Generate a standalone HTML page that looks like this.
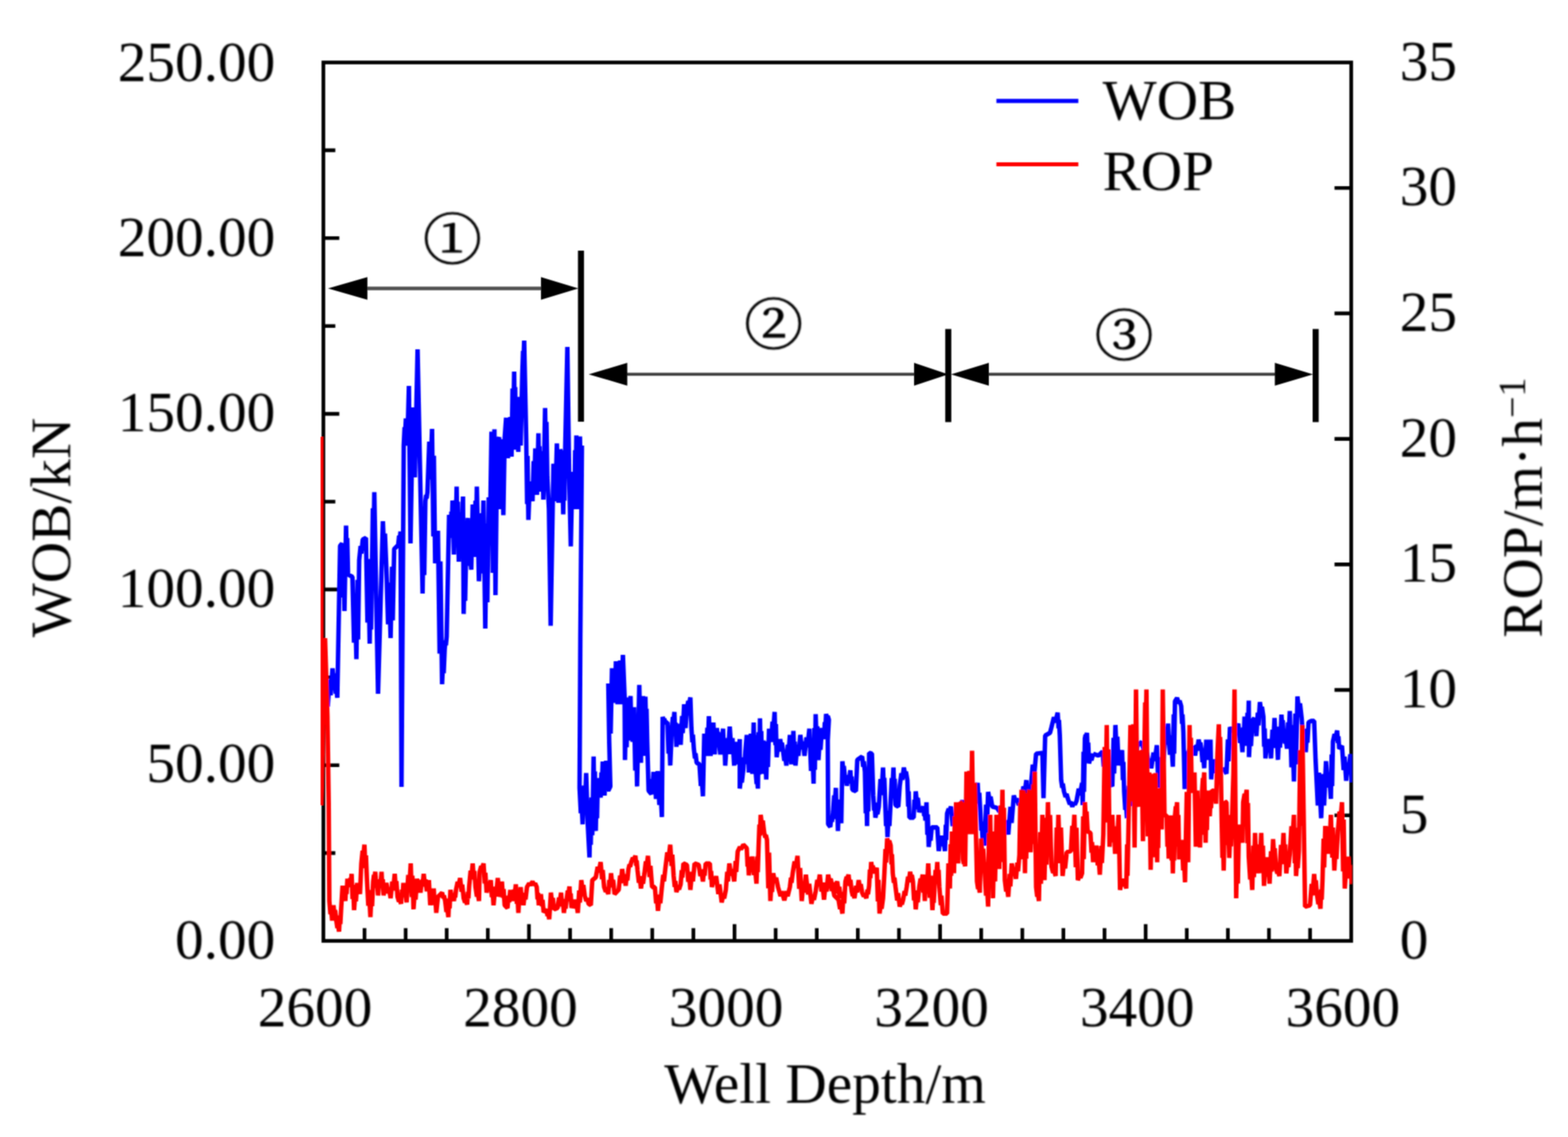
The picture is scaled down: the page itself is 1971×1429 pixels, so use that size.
<!DOCTYPE html>
<html lang="en">
<head>
<meta charset="utf-8">
<title>WOB and ROP versus Well Depth</title>
<style>
html,body{margin:0;padding:0;background:#fff;}
body{width:1971px;height:1429px;overflow:hidden;}
svg{display:block;}
</style>
</head>
<body>
<svg width="1971" height="1429" viewBox="0 0 1971 1429" font-family='"Liberation Serif", "Noto Serif CJK SC", serif' fill="#000">
<defs><filter id="soft" x="0" y="0" width="1971" height="1429" filterUnits="userSpaceOnUse"><feConvolveMatrix order="3" kernelMatrix="1 2 1 2 6 2 1 2 1" divisor="18" edgeMode="duplicate" preserveAlpha="false"/></filter><filter id="softtext" x="0" y="0" width="1971" height="1429" filterUnits="userSpaceOnUse"><feConvolveMatrix order="5" kernelMatrix="1 4 6 4 1 4 16 24 16 4 6 24 36 24 6 4 16 24 16 4 1 4 6 4 1" divisor="256" edgeMode="duplicate" preserveAlpha="false"/></filter><clipPath id="plot"><rect x="403" y="78" width="1296.5" height="1105"/></clipPath></defs>
<rect width="1971" height="1429" fill="#fff"/>
<g filter="url(#soft)">
<rect x="406.5" y="78.5" width="1292.0" height="1104.0" fill="none" stroke="#000" stroke-width="4.6"/>
<path d="M406.5 1072.1h15 M406.5 961.7h20 M406.5 851.3h15 M406.5 740.9h20 M406.5 630.5h15 M406.5 520.1h20 M406.5 409.7h15 M406.5 299.3h20 M406.5 188.9h15 M1698.5 1024.8h-21 M1698.5 867.1h-21 M1698.5 709.4h-21 M1698.5 551.6h-21 M1698.5 393.9h-21 M1698.5 236.2h-21 M458.2 1182.5v-16 M509.9 1182.5v-16 M561.5 1182.5v-16 M613.2 1182.5v-16 M664.9 1182.5v-21 M716.6 1182.5v-16 M768.3 1182.5v-16 M819.9 1182.5v-16 M871.6 1182.5v-16 M923.3 1182.5v-21 M975.0 1182.5v-16 M1026.7 1182.5v-16 M1078.3 1182.5v-16 M1130.0 1182.5v-16 M1181.7 1182.5v-21 M1233.4 1182.5v-16 M1285.1 1182.5v-16 M1336.7 1182.5v-16 M1388.4 1182.5v-16 M1440.1 1182.5v-21 M1491.8 1182.5v-16 M1543.5 1182.5v-16 M1595.1 1182.5v-16 M1646.8 1182.5v-16" fill="none" stroke="#000" stroke-width="4.6"/>
<g clip-path="url(#plot)">
<polyline points="407.0,872.0 409.0,882.9 410.0,877.1 412.0,888.0 414.4,854.2 415.6,873.8 418.0,840.0 419.2,853.6 419.8,846.4 421.0,860.0 422.2,871.6 422.8,865.4 424.0,877.0 427.5,686.0 430.0,683.0 431.2,751.0 431.8,700.0 433.0,768.0 435.0,660.5 436.0,706.3 436.5,676.2 437.5,722.0 443.0,725.0 445.0,807.8 446.0,745.7 448.0,828.5 449.4,728.9 450.1,803.6 451.5,704.0 453.3,686.3 454.2,695.7 456.0,678.0 460.0,676.0 461.9,782.4 462.8,702.6 464.7,809.0 465.8,737.8 466.4,791.2 467.5,720.0 468.7,638.9 469.3,699.7 470.5,618.6 475.2,872.0 481.3,655.0 483.1,699.4 483.9,670.6 485.7,715.0 487.8,784.6 488.9,732.4 491.0,802.0 492.8,712.4 493.7,779.6 495.5,690.0 500.5,685.0 501.7,673.4 502.3,679.6 503.5,668.0 504.7,989.0 507.5,560.0 508.6,536.9 509.1,549.1 510.2,526.0 512.0,560.0 514.0,485.0 516.0,683.0 519.0,512.0 520.0,582.4 520.5,529.6 521.5,600.0 524.9,439.0 531.2,746.0 532.6,653.2 533.3,722.8 534.7,630.0 535.7,622.2 536.3,626.3 537.3,618.5 539.6,555.0 540.8,602.5 543.1,539.0 544.7,674.2 545.4,572.8 547.0,708.0 548.4,680.0 549.1,695.0 550.5,667.0 552.6,821.4 553.6,705.6 555.7,860.0 557.0,829.6 557.7,846.4 559.0,816.0 560.0,805.1 560.5,810.9 561.5,800.0 564.5,647.0 566.5,676.0 567.4,643.1 567.9,661.9 568.8,629.0 570.6,697.0 572.0,628.7 572.6,679.9 574.0,611.6 575.1,687.1 575.6,630.5 576.7,706.0 578.4,644.0 580.0,700.0 582.0,624.0 582.8,771.6 584.1,706.3 584.7,755.3 586.0,690.0 588.0,651.0 590.0,700.0 591.0,710.9 591.4,705.1 592.4,716.0 594.2,634.0 595.1,684.0 595.6,650.0 596.5,700.0 597.7,629.3 598.2,682.3 599.4,611.6 602.0,730.5 603.0,709.8 603.5,720.7 604.5,700.0 605.8,645.1 606.4,683.9 607.7,629.0 610.0,790.0 611.7,658.0 612.6,757.0 614.3,625.0 616.0,660.0 617.8,542.5 619.5,720.0 621.5,539.5 622.8,748.0 625.0,555.0 627.4,549.5 629.0,640.0 631.0,552.0 632.7,647.4 634.4,550.0 636.2,525.0 637.1,561.4 637.6,539.6 638.5,576.0 639.7,538.8 640.2,561.2 641.4,524.0 643.0,574.0 644.3,488.4 645.0,552.6 646.3,467.0 647.2,545.4 647.6,486.6 648.5,565.0 650.2,532.0 651.5,568.0 652.8,498.7 654.5,560.0 656.5,470.0 657.5,441.2 657.9,456.8 658.9,428.0 661.5,553.0 662.6,633.4 663.1,573.1 664.2,653.5 666.0,605.0 667.4,622.0 668.0,613.0 669.4,630.0 670.8,579.5 671.5,614.0 672.9,563.5 675.0,622.0 676.8,544.6 677.7,601.9 678.1,560.7 679.0,618.0 680.8,567.0 681.7,612.3 682.1,582.7 683.0,628.0 685.2,512.7 686.3,582.5 686.9,530.2 688.0,600.0 690.0,640.0 692.2,786.5 695.7,582.7 696.6,615.9 697.1,596.8 698.0,630.0 700.0,557.3 702.0,632.0 704.0,565.0 706.2,570.5 708.0,646.5 709.0,577.3 709.5,629.2 710.5,560.0 713.2,436.0 715.5,600.0 717.5,686.7 719.5,593.0 720.5,625.9 721.0,607.1 722.0,640.0 723.0,565.9 723.5,621.5 724.5,547.4 726.5,640.0 727.5,566.9 728.0,621.7 729.0,548.6 730.5,640.0 731.5,560.0 729.5,800.0 728.5,990.0 730.1,1022.1 730.8,1003.9 732.4,1036.0 734.2,987.4 735.0,1020.1 736.8,971.5 738.9,1037.4 741.0,1077.7 742.0,1018.5 742.6,1061.6 743.6,1002.4 744.5,1049.7 746.2,950.8 747.3,1025.7 747.8,969.5 748.9,1044.4 749.9,993.9 750.5,1028.4 751.5,977.9 752.9,994.6 753.6,985.7 755.0,1002.4 756.0,970.8 756.6,988.6 757.6,957.0 758.5,986.5 759.0,970.3 759.9,999.8 762.0,956.1 763.0,981.7 763.6,968.1 764.6,993.7 767.2,988.4 765.8,932.5 764.6,859.0 765.8,906.2 766.4,874.8 767.6,922.0 769.3,839.7 770.3,870.0 770.8,853.2 771.8,883.5 772.8,845.8 773.2,868.7 774.2,831.0 776.3,885.2 777.6,845.2 778.2,870.1 779.5,830.1 781.2,885.2 783.0,823.1 785.1,874.7 785.6,955.2 787.0,892.5 787.7,939.2 789.1,876.5 790.9,930.7 792.6,874.7 793.6,917.1 794.2,890.1 795.2,932.5 797.0,888.7 798.5,968.5 799.3,908.6 800.8,988.4 803.6,860.7 805.7,958.7 806.7,891.5 807.3,941.9 808.3,874.7 810.1,950.0 811.3,875.6 812.2,917.2 812.7,890.9 813.6,932.5 815.3,993.7 818.8,998.1 819.9,979.1 820.4,989.1 821.5,970.1 822.7,993.3 823.4,981.0 824.6,1004.2 826.7,969.2 828.8,1011.5 829.9,984.6 832.0,1026.9 833.0,901.0 834.3,905.8 835.0,903.2 836.3,908.0 839.0,908.0 840.4,947.2 841.1,923.0 842.5,962.2 844.6,915.0 845.8,901.3 846.5,908.5 847.7,894.8 848.7,925.1 849.3,908.3 850.3,938.6 851.4,918.9 851.9,929.4 853.0,909.7 854.0,927.6 854.6,918.1 855.6,936.0 857.4,899.8 858.2,921.4 860.0,885.2 861.7,915.0 863.5,890.5 865.2,881.0 866.1,886.0 867.8,876.5 869.1,915.0 870.3,932.8 871.0,923.4 872.2,941.2 873.6,953.1 874.3,946.8 875.7,958.7 879.2,960.5 881.0,987.9 881.8,973.3 883.6,1000.7 885.3,922.0 886.3,941.0 886.9,931.0 887.9,950.0 889.2,914.6 889.8,935.5 891.1,900.1 893.2,950.0 894.6,921.2 895.3,936.8 896.7,908.0 898.4,948.2 899.5,925.6 900.0,937.6 901.1,915.0 902.1,925.7 902.7,920.0 903.7,930.7 905.4,948.2 906.8,926.2 907.5,937.8 908.9,915.8 910.0,948.2 910.5,929.8 911.6,962.2 913.9,927.6 915.0,947.8 917.3,913.2 919.5,947.8 920.7,927.6 922.9,962.2 924.0,942.0 924.5,952.7 925.6,932.5 926.6,951.5 927.2,941.5 928.2,960.5 929.9,929.0 929.9,991.1 931.7,975.1 932.5,983.5 934.3,967.5 935.3,952.0 935.9,960.2 936.9,944.7 938.7,923.7 939.7,956.9 940.3,937.8 941.3,971.0 942.3,936.4 942.9,956.6 943.9,922.0 945.7,972.7 947.4,908.0 948.5,956.8 949.0,923.9 950.1,972.7 951.1,985.2 951.7,978.6 952.7,991.1 953.7,920.4 954.3,973.4 955.3,902.7 956.3,956.6 956.9,918.8 957.9,972.7 959.7,930.7 961.1,965.3 961.8,945.1 963.2,979.7 964.6,931.7 965.3,963.8 966.7,915.8 967.7,927.2 968.3,921.1 969.3,932.5 971.1,906.9 971.9,920.4 973.7,894.8 974.7,936.4 975.3,910.1 976.3,951.7 978.1,936.3 978.9,944.4 980.7,929.0 982.1,938.5 982.8,933.5 984.2,943.0 985.9,956.1 986.8,949.1 988.5,962.2 990.3,936.0 991.1,949.9 992.9,923.7 994.7,960.5 995.7,931.7 996.3,947.3 997.3,918.5 998.3,948.7 998.9,932.0 999.9,962.2 1002.3,936.0 1003.6,949.9 1006.0,923.7 1008.1,941.6 1009.2,932.1 1011.3,950.0 1013.7,926.7 1015.0,939.1 1017.4,915.8 1019.5,968.8 1020.6,931.9 1022.7,984.9 1023.7,915.0 1024.3,967.4 1025.3,897.5 1026.7,939.8 1027.4,912.9 1028.8,955.2 1030.6,927.8 1031.4,942.4 1033.2,915.0 1034.2,924.5 1034.8,919.5 1035.8,929.0 1036.8,907.6 1037.4,918.9 1038.4,897.5 1039.8,902.3 1040.5,899.7 1041.9,904.5 1040.5,930.7 1041.0,1035.7 1043.7,1039.2 1045.1,1026.1 1045.8,1033.0 1047.2,1019.9 1048.6,999.7 1049.3,1010.4 1050.7,990.2 1051.7,1029.4 1052.3,1005.2 1053.3,1044.4 1054.3,1017.5 1054.7,1031.8 1055.7,1004.9 1057.5,1034.7 1058.9,956.8 1060.1,969.3 1060.7,962.7 1061.9,975.2 1062.9,983.6 1063.5,979.1 1064.5,987.5 1066.3,974.4 1067.1,981.3 1068.9,968.2 1069.9,984.9 1070.5,976.0 1071.5,992.7 1075.9,994.5 1077.6,955.1 1083.7,950.7 1085.1,963.8 1085.8,956.9 1087.2,970.0 1088.3,1022.1 1088.8,986.1 1089.9,1038.2 1090.9,964.7 1091.5,1019.8 1092.5,946.3 1096.0,947.2 1097.7,999.7 1098.8,1018.7 1099.3,1008.7 1100.4,1027.7 1102.1,1018.2 1103.0,1023.2 1104.7,1013.7 1106.8,979.1 1107.9,999.3 1110.0,964.7 1111.0,992.1 1111.6,977.5 1112.6,1004.9 1113.8,1038.1 1114.4,1019.0 1115.6,1052.2 1117.2,1020.5 1118.0,1038.4 1119.6,1006.7 1121.0,977.9 1121.7,993.5 1123.1,964.7 1124.1,997.8 1124.7,978.8 1125.7,1011.9 1129.2,1013.7 1131.0,987.5 1133.1,972.0 1134.1,980.2 1136.2,964.7 1138.0,975.4 1138.8,969.8 1140.6,980.5 1141.6,1013.6 1142.2,994.6 1143.2,1027.7 1148.5,1027.7 1149.5,1005.1 1150.1,1017.1 1151.1,994.5 1152.9,1012.3 1153.7,1002.9 1155.5,1020.7 1157.6,1015.9 1158.6,1018.5 1160.7,1013.7 1161.7,1025.6 1162.3,1019.3 1163.3,1031.2 1164.6,1008.4 1165.7,1049.2 1166.3,1023.6 1167.4,1064.4 1168.9,1047.7 1169.7,1056.6 1171.2,1039.9 1178.2,1039.9 1180.0,1069.7 1181.4,1056.6 1182.1,1063.5 1183.5,1050.4 1185.2,1063.5 1186.1,1056.6 1187.8,1069.7 1188.9,1036.5 1189.4,1055.6 1190.5,1022.4 1192.5,1016.5 1193.4,1019.6 1195.4,1013.7 1197.5,1038.2 1199.6,1027.5 1200.6,1033.1 1202.7,1022.4 1205.5,1011.1 1206.9,1017.1 1209.7,1005.8 1211.8,1017.1 1212.8,1011.1 1214.9,1022.4 1218.4,1010.5 1220.2,1016.8 1223.7,1004.9 1225.8,990.7 1226.8,998.2 1228.9,984.0 1230.3,1010.1 1231.0,996.3 1232.4,1022.4 1233.5,1043.8 1234.0,1032.5 1235.1,1053.9 1236.1,1059.9 1236.7,1056.7 1237.7,1062.7 1239.5,1011.3 1240.3,1046.7 1242.1,995.3 1244.2,1007.8 1245.2,1001.2 1247.3,1013.7 1253.4,1015.4 1256.2,1020.2 1257.6,1017.6 1260.4,1022.4 1263.2,1040.3 1264.6,1030.8 1267.4,1048.7 1270.2,1014.1 1271.6,1034.3 1274.4,999.7 1276.9,1008.0 1278.1,1003.6 1280.6,1011.9 1282.0,1007.1 1282.7,1009.7 1284.1,1004.9 1286.5,988.3 1287.8,997.1 1290.2,980.5 1290.5,1006.7 1292.5,997.2 1293.4,1002.2 1295.4,992.7 1298.2,961.0 1299.6,978.9 1302.4,947.2 1310.3,946.3 1311.7,1003.2 1313.8,924.5 1319.9,921.0 1321.7,914.0 1324.8,901.5 1326.4,908.1 1329.5,895.6 1330.6,915.3 1331.1,904.8 1332.2,924.5 1333.9,980.5 1335.3,990.0 1336.0,985.0 1337.4,994.5 1339.5,1001.6 1340.6,997.8 1342.7,1004.9 1344.8,1010.9 1345.8,1007.7 1347.9,1013.7 1350.0,1008.9 1351.1,1011.5 1353.2,1006.7 1356.0,991.3 1357.4,999.4 1360.2,984.0 1361.0,1011.9 1362.1,944.8 1362.6,995.1 1363.7,928.0 1364.7,923.2 1365.3,925.8 1366.3,921.0 1367.3,947.2 1367.9,933.3 1368.9,959.5 1371.0,951.1 1372.0,955.6 1374.1,947.2 1374.1,947.3 1380.7,949.7 1386.0,944.5 1387.4,963.5 1388.1,953.5 1389.5,972.5 1391.3,979.6 1392.1,975.9 1393.9,983.0 1398.2,988.2 1399.8,927.3 1400.5,972.1 1402.1,911.2 1403.7,947.4 1404.5,925.8 1406.1,962.0 1407.9,948.9 1408.7,955.8 1410.5,942.7 1411.5,980.4 1412.1,957.5 1413.1,995.2 1414.5,1017.8 1415.2,1005.8 1416.6,1028.4 1419.0,987.7 1420.3,1013.2 1422.7,972.5 1425.5,948.7 1426.9,961.3 1429.7,937.5 1435.0,932.2 1437.8,942.9 1439.2,937.3 1442.0,948.0 1444.1,959.9 1445.1,953.6 1447.2,965.5 1450.0,945.8 1451.4,956.3 1454.2,936.6 1455.6,975.1 1456.3,951.5 1457.7,990.0 1459.8,961.2 1460.9,976.8 1463.0,948.0 1465.1,921.8 1466.1,935.7 1468.2,909.5 1470.6,948.7 1471.9,924.5 1474.3,963.7 1475.4,897.9 1475.9,947.3 1477.0,881.5 1479.6,877.1 1481.7,884.2 1482.7,880.5 1484.8,887.6 1485.9,909.6 1486.4,898.0 1487.5,920.0 1489.2,991.7 1490.6,961.5 1491.3,978.2 1492.7,948.0 1495.5,940.9 1496.9,944.6 1499.7,937.5 1500.7,945.8 1501.3,941.4 1502.3,949.7 1504.1,936.0 1504.9,943.3 1506.7,929.6 1508.1,937.4 1508.8,933.2 1510.2,941.0 1511.6,957.7 1512.3,948.8 1513.7,965.5 1514.7,941.1 1515.3,954.0 1516.3,929.6 1517.4,946.9 1517.9,937.7 1519.0,955.0 1520.0,937.7 1520.6,946.9 1521.6,929.6 1522.5,979.5 1523.9,962.8 1524.6,971.7 1526.0,955.0 1528.8,959.8 1530.1,957.2 1532.9,962.0 1536.4,969.1 1538.2,965.4 1541.7,972.5 1543.5,929.4 1544.3,957.0 1546.1,913.9 1547.8,918.0 1548.7,915.9 1550.4,920.0 1552.9,912.9 1554.1,916.6 1556.6,909.5 1558.7,933.8 1559.7,921.0 1561.8,945.3 1562.8,914.4 1563.4,931.6 1564.4,900.7 1565.5,925.7 1566.0,912.5 1567.1,937.5 1568.1,895.9 1568.7,922.2 1569.7,880.6 1570.0,951.5 1571.6,919.8 1572.5,937.7 1574.1,906.0 1576.7,902.5 1577.7,917.9 1578.3,909.8 1579.3,925.2 1581.1,895.7 1581.9,911.9 1583.7,882.4 1585.5,894.8 1586.3,888.3 1588.1,900.7 1589.1,938.4 1589.7,915.5 1590.7,953.2 1592.1,936.5 1592.8,945.4 1594.2,928.7 1595.6,945.4 1596.3,936.5 1597.7,953.2 1599.5,917.1 1600.3,938.6 1602.1,902.5 1603.8,940.2 1604.7,917.3 1606.4,955.0 1608.2,913.4 1609.0,939.7 1610.8,898.1 1611.8,913.0 1612.4,905.1 1613.4,920.0 1615.2,934.3 1616.0,926.7 1617.8,941.0 1619.2,907.8 1619.9,926.9 1621.3,893.7 1623.4,964.4 1624.4,911.4 1626.5,982.1 1628.3,896.7 1629.1,960.8 1630.9,875.4 1633.0,893.8 1634.1,884.1 1636.2,902.5 1638.3,932.0 1639.3,915.8 1641.4,945.3 1642.8,919.7 1643.5,933.3 1644.9,907.7 1648.4,906.0 1651.9,906.0 1653.7,955.0 1656.5,1012.3 1657.9,971.1 1660.7,1028.4 1663.1,972.8 1664.4,1012.3 1666.8,956.7 1669.2,989.9 1670.5,970.8 1672.9,1004.0 1673.9,948.3 1674.5,987.9 1675.5,932.2 1677.6,922.7 1678.7,927.7 1680.8,918.2 1681.8,933.7 1682.4,925.5 1683.4,941.0 1686.9,937.5 1689.0,967.7 1690.1,951.0 1692.2,981.2 1694.3,958.6 1695.3,970.6 1697.4,948.0 1699.1,983.0" fill="none" stroke="#0000ff" stroke-width="5.6" stroke-linejoin="bevel" stroke-linecap="butt"/>
<polyline points="403.7,549.0 403.7,1012.0 408.6,802.0 411.6,900.0 413.2,1010.0 414.0,1132.4 415.4,1149.1 416.1,1140.2 417.5,1156.9 419.2,1137.7 420.6,1150.8 421.3,1143.8 422.7,1156.9 424.1,1166.4 424.8,1161.4 426.2,1170.9 427.3,1150.7 427.8,1161.4 428.9,1141.2 430.6,1113.2 432.0,1126.3 432.7,1119.3 434.1,1132.4 435.1,1113.4 435.7,1123.5 436.7,1104.5 437.8,1111.6 438.3,1107.8 439.4,1114.9 440.4,1103.6 441.0,1109.6 442.0,1098.3 443.2,1130.0 443.9,1112.1 445.1,1143.8 446.7,1120.6 447.4,1132.9 449.0,1109.7 450.4,1119.2 451.1,1114.2 452.5,1123.7 454.2,1085.2 455.8,1069.2 456.5,1077.6 458.1,1061.6 459.3,1091.1 460.0,1075.0 461.2,1104.5 463.0,1138.4 463.8,1118.7 465.6,1152.6 467.0,1121.6 467.7,1138.9 469.1,1107.9 470.1,1099.6 470.7,1104.0 471.7,1095.7 473.1,1115.9 473.8,1105.2 475.2,1125.4 477.0,1105.2 477.8,1115.9 479.6,1095.7 480.6,1115.9 481.2,1105.2 482.2,1125.4 483.6,1114.7 484.3,1120.4 485.7,1109.7 487.8,1122.8 488.9,1115.8 491.0,1128.9 493.1,1108.1 494.1,1119.1 496.2,1098.3 497.6,1118.0 498.3,1107.5 499.7,1127.2 501.5,1133.1 502.3,1130.0 504.1,1135.9 505.3,1118.1 505.9,1127.5 507.1,1109.7 508.7,1126.4 509.5,1117.5 511.1,1134.2 513.2,1099.6 514.2,1119.8 516.3,1085.2 517.7,1127.5 518.4,1100.6 519.8,1142.9 521.6,1116.8 522.4,1130.6 524.2,1104.5 526.0,1116.3 526.8,1110.1 528.6,1121.9 530.2,1105.9 531.0,1114.3 532.6,1098.3 534.2,1113.2 534.9,1105.3 536.5,1120.2 537.5,1110.7 538.1,1115.7 539.1,1106.2 540.8,1137.7 542.6,1123.4 543.4,1131.0 545.2,1116.7 546.5,1137.5 547.1,1126.5 548.4,1147.3 550.5,1127.2 555.7,1121.9 557.3,1129.0 558.0,1125.3 559.6,1132.4 561.2,1146.1 562.0,1138.9 563.6,1152.6 564.6,1129.3 565.2,1141.7 566.2,1118.4 568.0,1127.9 568.8,1122.9 570.6,1132.4 571.6,1122.9 572.2,1127.9 573.2,1118.4 575.3,1108.3 576.3,1113.7 578.4,1103.6 580.2,1120.8 581.0,1111.7 582.8,1128.9 584.6,1134.3 585.4,1131.4 587.2,1136.8 588.2,1120.8 588.8,1129.2 589.8,1113.2 591.6,1094.2 592.4,1104.2 594.2,1085.2 595.6,1105.4 596.3,1094.7 597.7,1114.9 599.5,1126.8 600.3,1120.5 602.1,1132.4 602.9,1095.7 604.9,1088.6 605.8,1092.3 607.8,1085.2 609.4,1110.2 610.1,1096.9 611.7,1121.9 613.8,1111.2 614.8,1116.9 616.9,1106.2 618.3,1127.6 619.0,1116.3 620.4,1137.7 622.5,1114.5 623.6,1126.8 625.7,1103.6 627.1,1119.6 627.8,1111.2 629.2,1127.2 630.9,1107.9 632.3,1128.2 633.0,1117.4 634.4,1137.7 637.9,1141.2 639.3,1125.7 640.0,1133.9 641.4,1118.4 642.8,1127.9 643.5,1122.9 644.9,1132.4 646.3,1118.1 647.0,1125.7 648.4,1111.4 649.7,1135.8 650.3,1122.9 651.6,1147.3 652.8,1125.3 653.3,1136.9 654.5,1114.9 655.9,1130.4 656.6,1122.2 658.0,1137.7 659.8,1122.2 660.6,1130.4 662.4,1114.9 665.2,1110.1 666.6,1112.7 669.4,1107.9 671.5,1112.7 672.6,1110.1 674.7,1114.9 675.7,1130.4 676.3,1122.2 677.3,1137.7 678.3,1128.2 678.9,1133.2 679.9,1123.7 681.3,1139.1 682.0,1131.0 683.4,1146.4 686.9,1142.9 688.3,1151.3 689.0,1146.8 690.4,1155.2 692.5,1121.9 694.1,1136.2 694.9,1128.6 696.5,1142.9 700.9,1141.2 702.7,1128.1 703.5,1135.0 705.3,1121.9 706.7,1139.2 707.4,1130.0 708.8,1147.3 710.2,1136.0 710.9,1142.0 712.3,1130.7 713.7,1119.4 714.4,1125.4 715.8,1114.1 716.8,1132.5 717.4,1122.8 718.4,1141.2 720.2,1134.1 721.0,1137.8 722.8,1130.7 724.2,1142.0 724.9,1136.0 726.3,1147.3 728.1,1119.2 728.9,1134.3 730.7,1106.2 732.4,1119.3 733.3,1112.3 735.0,1125.4 737.0,1132.5 737.9,1128.8 739.9,1135.9 742.7,1137.7 744.5,1106.2 748.9,1102.7 751.3,1089.6 752.6,1096.6 755.0,1083.5 756.8,1104.9 757.6,1093.5 759.4,1114.9 761.5,1120.9 762.5,1117.7 764.6,1123.7 766.0,1105.9 766.7,1115.3 768.1,1097.5 769.9,1115.3 770.7,1105.9 772.5,1123.7 777.7,1118.4 779.5,1100.6 780.3,1110.0 782.1,1092.2 783.9,1106.5 784.7,1098.9 786.5,1113.2 787.9,1098.9 788.6,1106.5 790.0,1092.2 791.4,1086.3 792.1,1089.4 793.5,1083.5 795.6,1078.1 796.6,1081.0 798.7,1075.6 799.8,1088.1 800.3,1081.5 801.4,1094.0 803.1,1109.4 804.0,1101.3 805.7,1116.7 807.5,1103.6 808.3,1110.6 810.1,1097.5 811.9,1082.6 812.7,1090.5 814.5,1075.6 816.6,1102.3 817.6,1088.2 819.7,1114.9 823.2,1114.9 824.8,1135.2 825.5,1124.4 827.1,1144.7 829.1,1124.4 830.0,1135.2 832.0,1114.9 833.7,1099.5 834.6,1107.6 836.3,1092.2 838.8,1071.4 840.0,1082.4 842.5,1061.6 844.2,1088.4 845.1,1074.2 846.8,1101.0 848.2,1114.7 848.9,1107.4 850.3,1121.1 852.4,1114.5 853.5,1118.0 855.6,1111.4 857.0,1093.6 857.7,1103.0 859.1,1085.2 863.5,1087.0 865.2,1108.4 866.1,1097.0 867.8,1118.4 869.9,1095.8 871.0,1107.8 873.1,1085.2 878.3,1087.0 880.4,1101.2 881.5,1093.7 883.6,1107.9 885.0,1092.5 885.7,1100.6 887.1,1085.2 892.3,1085.2 893.3,1105.4 893.9,1094.7 894.9,1114.9 897.0,1105.4 898.1,1110.5 900.2,1101.0 903.0,1123.6 904.4,1111.6 907.2,1134.2 909.3,1123.5 910.3,1129.1 912.4,1118.4 914.2,1095.8 915.0,1107.8 916.8,1085.2 919.2,1100.6 920.5,1092.5 922.9,1107.9 924.7,1082.3 925.5,1095.9 927.3,1070.3 930.1,1064.4 931.5,1067.5 934.3,1061.6 938.7,1066.0 939.7,1089.2 940.3,1076.9 941.3,1100.1 943.1,1084.1 943.9,1092.5 945.7,1076.5 947.8,1099.7 948.8,1087.4 950.9,1110.6 952.0,1076.7 952.5,1096.4 953.6,1062.5 954.6,1036.3 955.2,1050.2 956.2,1024.0 958.0,1039.4 958.8,1031.3 960.6,1046.7 962.0,1052.7 962.7,1049.5 964.1,1055.5 965.8,1116.3 966.7,1071.6 968.4,1132.4 969.8,1108.7 970.5,1121.2 971.9,1097.5 974.3,1109.3 975.6,1103.1 978.0,1114.9 981.2,1126.3 982.7,1120.2 985.9,1131.6 988.7,1120.2 990.1,1126.3 992.9,1114.9 994.3,1103.1 995.0,1109.3 996.4,1097.5 998.8,1082.6 1000.1,1090.5 1002.5,1075.6 1004.6,1117.1 1005.7,1090.9 1007.8,1132.4 1009.9,1109.8 1010.9,1121.8 1013.0,1099.2 1015.8,1124.2 1017.2,1110.9 1020.0,1135.9 1022.1,1125.2 1023.2,1130.9 1025.3,1120.2 1027.4,1105.9 1028.4,1113.5 1030.5,1099.2 1032.6,1120.6 1033.7,1109.3 1035.8,1130.7 1037.9,1109.3 1038.9,1120.6 1041.0,1099.2 1043.1,1109.9 1044.2,1104.2 1046.3,1114.9 1048.7,1110.1 1050.0,1112.7 1052.4,1107.9 1054.2,1122.2 1055.0,1114.6 1056.8,1128.9 1051.5,1114.6 1048.8,1122.2 1043.5,1107.9 1045.6,1119.8 1046.6,1113.5 1048.7,1125.4 1054.0,1130.7 1056.0,1142.6 1056.9,1136.3 1058.9,1148.2 1060.4,1120.8 1061.2,1135.3 1062.7,1107.9 1064.3,1102.0 1065.0,1105.1 1066.6,1099.2 1068.2,1113.5 1069.0,1105.9 1070.6,1120.2 1072.0,1126.1 1072.7,1123.0 1074.1,1128.9 1076.2,1113.5 1077.3,1121.6 1079.4,1106.2 1081.1,1116.9 1082.0,1111.2 1083.7,1121.9 1085.8,1126.7 1086.9,1124.1 1089.0,1128.9 1090.4,1118.2 1091.1,1123.9 1092.5,1113.2 1093.5,1093.0 1094.1,1103.7 1095.1,1083.5 1096.5,1093.0 1097.2,1088.0 1098.6,1097.5 1100.0,1092.7 1100.7,1095.3 1102.1,1090.5 1103.5,1132.8 1104.2,1105.9 1105.6,1148.2 1107.4,1135.1 1108.2,1142.0 1110.0,1128.9 1111.7,1097.5 1113.1,1067.2 1113.8,1084.0 1115.2,1053.7 1117.0,1059.7 1117.8,1056.5 1119.6,1062.5 1120.6,1086.3 1121.2,1073.7 1122.2,1097.5 1123.6,1109.3 1124.3,1103.1 1125.7,1114.9 1127.8,1131.6 1128.9,1122.7 1131.0,1139.4 1132.7,1133.5 1133.6,1136.6 1135.3,1130.7 1137.1,1120.0 1137.9,1125.6 1139.7,1114.9 1141.5,1101.8 1142.3,1108.8 1144.1,1095.7 1145.5,1104.0 1146.2,1099.6 1147.6,1107.9 1149.0,1131.7 1149.7,1119.1 1151.1,1142.9 1152.9,1123.9 1153.7,1133.9 1155.5,1114.9 1157.2,1104.2 1158.1,1109.9 1159.8,1099.2 1160.9,1121.8 1161.4,1109.8 1162.5,1132.4 1164.2,1099.3 1165.1,1118.3 1166.8,1085.2 1168.9,1128.3 1170.0,1100.7 1172.1,1143.8 1173.1,1124.1 1173.7,1134.6 1174.7,1114.9 1176.1,1093.5 1176.8,1104.9 1178.2,1083.5 1179.2,1104.9 1179.8,1093.5 1180.8,1114.9 1182.6,1137.5 1183.4,1125.6 1185.2,1148.2 1190.5,1148.2 1192.2,1085.2 1194.0,1116.7 1195.0,1061.1 1195.6,1100.6 1196.6,1045.0 1197.6,1082.7 1198.2,1059.8 1199.2,1097.5 1200.2,1026.1 1200.8,1079.6 1201.8,1008.2 1202.9,1069.1 1203.4,1024.3 1204.5,1085.2 1205.5,1024.3 1206.1,1069.1 1207.1,1008.2 1208.8,1009.1 1210.6,1080.0 1211.6,1085.9 1212.2,1082.8 1213.2,1088.7 1214.9,969.7 1216.7,1048.5 1218.4,968.9 1220.2,1048.5 1221.9,943.5 1223.7,1048.5 1225.4,983.7 1228.1,1107.9 1229.5,1117.4 1230.2,1112.4 1231.6,1121.9 1233.3,1053.7 1235.1,1081.1 1235.9,1066.6 1237.7,1094.0 1239.5,1125.6 1240.3,1107.8 1242.1,1139.4 1243.1,1047.1 1243.7,1116.3 1244.7,1024.0 1246.1,1107.9 1246.8,1045.0 1248.2,1128.9 1250.0,1045.0 1250.8,1107.9 1252.6,1024.0 1254.0,1076.1 1254.7,1040.1 1256.1,1092.2 1257.7,1012.4 1258.5,1072.3 1260.1,992.5 1261.3,1083.5 1261.9,1015.2 1263.1,1106.2 1264.8,1120.5 1265.7,1112.9 1267.4,1127.2 1269.2,1098.4 1270.0,1114.0 1271.8,1085.2 1273.9,1098.3 1275.0,1091.4 1277.1,1104.5 1278.8,1084.2 1279.7,1095.0 1281.4,1074.7 1282.5,1008.9 1283.0,1058.3 1284.1,992.5 1285.8,1080.0 1286.7,993.4 1288.4,1097.5 1289.4,1024.7 1290.0,1079.3 1291.0,1006.5 1292.1,997.0 1292.6,1002.0 1293.7,992.5 1295.4,1071.2 1296.4,1048.6 1297.0,1060.6 1298.0,1038.0 1299.1,985.8 1299.6,1021.9 1300.7,969.7 1302.4,1114.9 1303.8,1126.8 1304.5,1120.5 1305.9,1132.4 1307.7,1045.7 1308.5,1110.7 1310.3,1024.0 1311.3,1089.8 1311.9,1040.4 1312.9,1106.2 1314.7,1027.8 1315.5,1086.6 1317.3,1008.2 1319.1,1072.6 1319.9,1024.3 1321.7,1088.7 1323.8,1097.1 1324.8,1092.6 1326.9,1101.0 1328.3,1040.1 1329.0,1084.9 1330.4,1024.0 1332.5,1084.9 1333.6,1040.1 1335.7,1101.0 1337.8,1080.7 1338.8,1091.5 1340.9,1071.2 1346.2,1069.5 1347.9,1037.8 1348.8,1055.7 1350.5,1024.0 1352.3,1089.8 1353.1,1040.4 1354.9,1106.2 1357.0,1100.3 1358.1,1103.4 1360.2,1097.5 1361.6,1026.1 1362.3,1079.6 1363.7,1008.2 1365.1,1033.2 1365.8,1020.0 1367.2,1045.0 1370.7,1046.7 1372.1,1071.7 1372.7,1058.5 1374.1,1083.5 1375.7,1069.3 1376.5,1076.8 1378.1,1062.6 1379.9,1087.6 1380.7,1074.3 1382.5,1099.3 1384.3,1063.2 1385.1,1084.7 1386.9,1048.6 1388.6,938.7 1389.5,1021.1 1391.2,911.2 1392.6,1033.7 1393.3,941.8 1394.7,1064.3 1396.1,1036.9 1396.8,1051.5 1398.2,1024.1 1399.6,1058.7 1400.3,1038.5 1401.7,1073.1 1403.5,1038.5 1404.3,1058.7 1406.1,1024.1 1407.9,1118.5 1409.6,1109.0 1410.5,1114.0 1412.2,1104.5 1413.6,1112.9 1414.3,1108.4 1415.7,1116.8 1416.8,1061.2 1417.3,1100.7 1418.4,1045.1 1421.0,911.2 1422.7,1007.5 1424.5,910.4 1426.2,1065.2 1428.0,866.6 1429.7,1007.5 1431.5,1013.6 1433.2,944.5 1435.0,945.3 1436.7,1057.3 1438.5,944.5 1439.5,882.7 1440.1,928.4 1441.1,866.6 1442.9,1051.2 1444.6,970.7 1446.4,1093.2 1449.0,972.5 1450.7,1077.4 1452.5,971.6 1454.6,1083.6 1455.5,1011.5 1455.9,1065.6 1456.8,993.5 1458.6,992.6 1460.3,1042.4 1461.6,866.6 1463.8,1024.9 1466.5,1024.9 1467.5,1064.2 1468.1,1039.9 1469.1,1079.2 1470.1,1039.9 1470.7,1064.2 1471.7,1024.9 1472.7,1081.5 1473.3,1041.0 1474.3,1097.6 1475.4,1041.0 1475.9,1081.5 1477.0,1024.9 1478.0,1013.6 1478.6,1019.6 1479.6,1008.3 1480.6,1064.0 1481.2,1024.4 1482.2,1080.1 1483.6,1063.4 1484.3,1072.3 1485.7,1055.6 1487.3,1094.0 1488.0,1070.5 1489.6,1108.9 1491.8,995.2 1493.6,1083.6 1495.3,911.2 1496.4,974.0 1496.9,927.2 1498.0,990.0 1499.7,996.1 1501.5,970.7 1503.2,1064.3 1505.0,993.5 1506.4,1049.1 1507.1,1009.6 1508.5,1065.2 1509.5,1009.6 1510.1,1049.1 1511.1,993.5 1512.1,978.0 1512.7,986.2 1513.7,970.7 1515.5,1059.1 1516.5,1009.5 1517.1,1043.1 1518.1,993.5 1519.1,1015.5 1519.7,1003.8 1520.7,1025.8 1521.7,1003.8 1522.3,1015.5 1523.3,993.5 1526.0,994.3 1527.0,1005.0 1527.6,999.4 1528.6,1010.1 1530.3,948.0 1532.1,910.4 1533.1,956.7 1533.7,926.2 1534.7,972.5 1535.6,1027.6 1536.6,1078.1 1537.2,1043.6 1538.2,1094.1 1539.9,1007.5 1541.7,1008.3 1543.1,1062.2 1543.8,1024.4 1545.2,1078.3 1546.6,1042.2 1547.3,1063.7 1548.7,1027.6 1550.4,972.5 1551.8,866.6 1553.9,1129.0 1555.3,1054.8 1556.0,1110.5 1557.4,1036.3 1559.2,1051.8 1560.0,1043.6 1561.8,1059.1 1562.7,1008.3 1564.5,997.6 1565.3,1003.3 1567.1,992.6 1568.1,1059.8 1568.7,1009.4 1569.7,1076.6 1571.5,1105.3 1572.3,1089.8 1574.1,1118.5 1575.5,1062.9 1576.2,1102.4 1577.6,1046.8 1579.0,1083.0 1579.7,1061.4 1581.1,1097.6 1582.8,1061.4 1583.7,1083.0 1585.4,1046.8 1586.8,1097.3 1587.5,1062.8 1588.9,1113.3 1590.3,1088.9 1591.0,1101.8 1592.4,1077.4 1593.8,1100.0 1594.5,1088.1 1595.9,1110.7 1597.7,1069.9 1598.5,1095.5 1600.3,1054.7 1601.7,1079.1 1602.4,1066.2 1603.8,1090.6 1605.6,1097.7 1606.4,1093.9 1608.2,1101.0 1610.3,1061.8 1611.3,1086.0 1613.4,1046.8 1614.8,1083.0 1615.5,1061.4 1616.9,1097.6 1618.7,1080.9 1619.5,1089.8 1621.3,1073.1 1623.4,1038.5 1624.4,1058.7 1626.5,1024.1 1627.6,1084.9 1628.1,1040.2 1629.2,1101.0 1630.6,1079.6 1631.3,1091.0 1632.7,1069.6 1634.4,942.9 1635.3,1037.9 1637.0,911.2 1640.5,1139.5 1646.7,1137.8 1648.8,1111.0 1649.8,1125.2 1651.9,1098.4 1653.3,1115.7 1654.0,1106.5 1655.4,1123.8 1657.2,1136.3 1658.0,1129.7 1659.8,1142.2 1660.8,1117.8 1661.4,1130.7 1662.4,1106.3 1663.8,1054.2 1664.5,1090.2 1665.9,1038.1 1667.3,1061.9 1668.0,1049.3 1669.4,1073.1 1670.8,1038.5 1671.5,1058.7 1672.9,1024.1 1674.7,1078.0 1675.5,1040.2 1677.3,1094.1 1679.1,1059.5 1679.9,1079.7 1681.7,1045.1 1683.8,1020.1 1684.8,1033.3 1686.9,1008.3 1688.3,1095.1 1689.0,1030.0 1690.4,1116.8 1692.2,1089.4 1693.0,1104.0 1694.8,1076.6 1696.5,1099.8 1697.4,1087.5 1699.1,1110.7" fill="none" stroke="#ff0000" stroke-width="5.6" stroke-linejoin="bevel" stroke-linecap="butt"/>
</g>
<line x1="459.8" y1="362.5" x2="682.0" y2="362.5" stroke="#505050" stroke-width="4.4"/><path d="M412.3 362.5L461.8 348.2L461.8 376.8Z" fill="#000"/><path d="M727.0 362.5L680.0 348.2L680.0 376.8Z" fill="#000"/>
<line x1="786.5" y1="470.4" x2="1151.0" y2="470.4" stroke="#3c3c3c" stroke-width="3.8"/><path d="M740.0 470.4L788.5 456.1L788.5 484.7Z" fill="#000"/><path d="M1192.0 470.4L1149.0 456.1L1149.0 484.7Z" fill="#000"/>
<line x1="1241.0" y1="470.4" x2="1604.5" y2="470.4" stroke="#3c3c3c" stroke-width="3.8"/><path d="M1195.5 470.4L1243.0 456.1L1243.0 484.7Z" fill="#000"/><path d="M1650.5 470.4L1602.5 456.1L1602.5 484.7Z" fill="#000"/>
<path d="M730.3 315V530M1192 413.5V530.5M1653.8 413.5V530.5" fill="none" stroke="#000" stroke-width="7.6"/>
<path d="M1252.5 126.9H1355.5" stroke="#0000ff" stroke-width="5.2" fill="none"/>
<path d="M1252.5 206.5H1355.5" stroke="#ff0000" stroke-width="5.2" fill="none"/>
</g>
<g filter="url(#softtext)">
<text x="346.0" y="1204.5" font-size="72" text-anchor="end"  >0.00</text>
<text x="346.0" y="982.9" font-size="72" text-anchor="end"  >50.00</text>
<text x="346.0" y="762.5" font-size="72" text-anchor="end"  >100.00</text>
<text x="346.0" y="541.7" font-size="72" text-anchor="end"  >150.00</text>
<text x="346.0" y="322.1" font-size="72" text-anchor="end"  >200.00</text>
<text x="346.0" y="102.0" font-size="72" text-anchor="end"  >250.00</text>
<text x="1759.5" y="1204.5" font-size="72" text-anchor="start"  >0</text>
<text x="1759.5" y="1046.8" font-size="72" text-anchor="start"  >5</text>
<text x="1759.5" y="889.1" font-size="72" text-anchor="start"  >10</text>
<text x="1759.5" y="731.4" font-size="72" text-anchor="start"  >15</text>
<text x="1759.5" y="573.6" font-size="72" text-anchor="start"  >20</text>
<text x="1759.5" y="415.9" font-size="72" text-anchor="start"  >25</text>
<text x="1759.5" y="258.2" font-size="72" text-anchor="start"  >30</text>
<text x="1759.5" y="101.0" font-size="72" text-anchor="start"  >35</text>
<text x="395.9" y="1289.9" font-size="72" text-anchor="middle"  >2600</text>
<text x="654.3" y="1289.9" font-size="72" text-anchor="middle"  >2800</text>
<text x="912.7" y="1289.9" font-size="72" text-anchor="middle"  >3000</text>
<text x="1171.1" y="1289.9" font-size="72" text-anchor="middle"  >3200</text>
<text x="1429.5" y="1289.9" font-size="72" text-anchor="middle"  >3400</text>
<text x="1687.9" y="1289.9" font-size="72" text-anchor="middle"  >3600</text>
<text x="1037.1" y="1386.4" font-size="72" text-anchor="middle"  >Well Depth/m</text>
<text x="1386.0" y="150.3" font-size="72" text-anchor="start"  >WOB</text>
<text x="1386.0" y="238.6" font-size="72" text-anchor="start"  >ROP</text>
<text transform="translate(88.2 663) rotate(-90)" font-size="72" text-anchor="middle" >WOB/kN</text>
<text transform="translate(1938 801.5) rotate(-90)" font-size="72" text-anchor="start" >ROP/m·h<tspan font-size="48" dy="-21">−1</tspan></text>
<text transform="translate(568.6 299.3) scale(1.013 0.956)" x="0" y="27.5" font-size="73" text-anchor="middle" stroke="#000" stroke-width="1.3">①</text>
<text transform="translate(972.5 406.6) scale(1.013 0.956)" x="0" y="27.5" font-size="73" text-anchor="middle" stroke="#000" stroke-width="1.3">②</text>
<text transform="translate(1413.0 421.0) scale(1.013 0.956)" x="0" y="27.5" font-size="73" text-anchor="middle" stroke="#000" stroke-width="1.3">③</text>
</g>
</svg>
</body>
</html>
